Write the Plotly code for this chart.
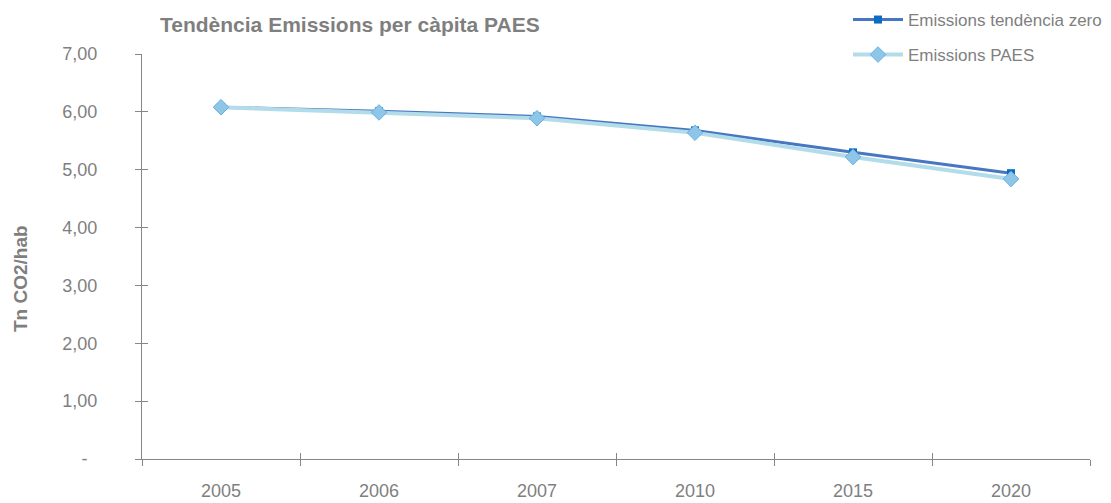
import plotly.graph_objects as go

# Emissions per capita (Tn CO2/hab) by year
years = ["2005", "2006", "2007", "2010", "2015", "2020"]
zero_trend = [6.08, 6.01, 5.92, 5.68, 5.30, 4.94]
paes = [6.08, 5.99, 5.89, 5.64, 5.22, 4.84]

y_ticks = [0, 1, 2, 3, 4, 5, 6, 7]
y_ticktext = ["-\u00a0\u00a0", "1,00", "2,00", "3,00", "4,00", "5,00", "6,00", "7,00"]

FONT = "Liberation Sans, Arial, sans-serif"
GREY = "#868686"
TEXT = "#7f7f7f"

# plot area in pixels
L, R, T, B = 142, 1090, 54, 459
W, H = R - L, B - T

fig = go.Figure()

fig.add_trace(go.Scatter(
    x=years, y=zero_trend, name="Emissions tendència zero",
    mode="lines+markers",
    line=dict(color="#4677c0", width=3),
    marker=dict(symbol="square", size=8, color="#0a6cc2"),
    legend="legend",
))
fig.add_trace(go.Scatter(
    x=years, y=paes, name="Emissions PAES",
    mode="lines+markers",
    line=dict(color="#b3dcea", width=4),
    marker=dict(symbol="diamond", size=12, color="#8ec6e8",
                line=dict(color="#6aaee2", width=1)),
    legend="legend2",
))
# transparent copy that carries the inner half of the crossing tick marks
fig.add_trace(go.Scatter(
    x=years, y=paes, xaxis="x2", yaxis="y2", mode="lines",
    line=dict(color="rgba(0,0,0,0)"), showlegend=False, hoverinfo="skip",
))

axis_common = dict(showgrid=False, zeroline=False, showline=True,
                   linecolor=GREY, linewidth=1, tickcolor=GREY,
                   ticklen=6, tickwidth=1)

legend_common = dict(xref="paper", yref="paper", xanchor="left",
                     yanchor="middle", x=(848 - L) / W,
                     font=dict(size=17, color=TEXT),
                     bgcolor="rgba(0,0,0,0)", itemwidth=50)

fig.update_layout(
    width=1111, height=503,
    margin=dict(l=L, r=1111 - R, t=T, b=503 - B, autoexpand=False),
    paper_bgcolor="white", plot_bgcolor="white",
    font=dict(family=FONT, color=TEXT),
    title=dict(text="<b>Tendència Emissions per càpita PAES</b>",
               x=160 / 1111, xref="container", xanchor="left",
               y=1 - 25 / 503, yref="container", yanchor="middle",
               font=dict(size=21, color="#7f7f7f", family=FONT)),
    xaxis=dict(type="category", categoryarray=years, range=[-0.5, 5.5],
               ticks="outside", tickson="boundaries",
               tickfont=dict(size=18, color=TEXT), ticklabelstandoff=15,
               **axis_common),
    xaxis2=dict(type="category", categoryarray=years, range=[-0.5, 5.5],
                overlaying="x", anchor="y", ticks="inside", tickson="boundaries",
                showticklabels=False, **axis_common),
    yaxis=dict(range=[0, 7], tickvals=y_ticks, ticktext=y_ticktext,
               ticks="outside", tickfont=dict(size=18, color=TEXT),
               ticklabelstandoff=34, **axis_common),
    yaxis2=dict(range=[0, 7], tickvals=y_ticks, overlaying="y", anchor="x",
                side="left", ticks="inside", showticklabels=False,
                **axis_common),
    legend=dict(y=(B - 20) / H, **legend_common),
    legend2=dict(y=(B - 55) / H, **legend_common),
    annotations=[dict(text="<b>Tn CO2/hab</b>", textangle=-90,
                      xref="paper", yref="paper",
                      x=(20 - L) / W, y=(B - 278) / H,
                      xanchor="center", yanchor="middle", showarrow=False,
                      font=dict(size=19, color=TEXT, family=FONT))],
)

fig.write_html("out.html")
